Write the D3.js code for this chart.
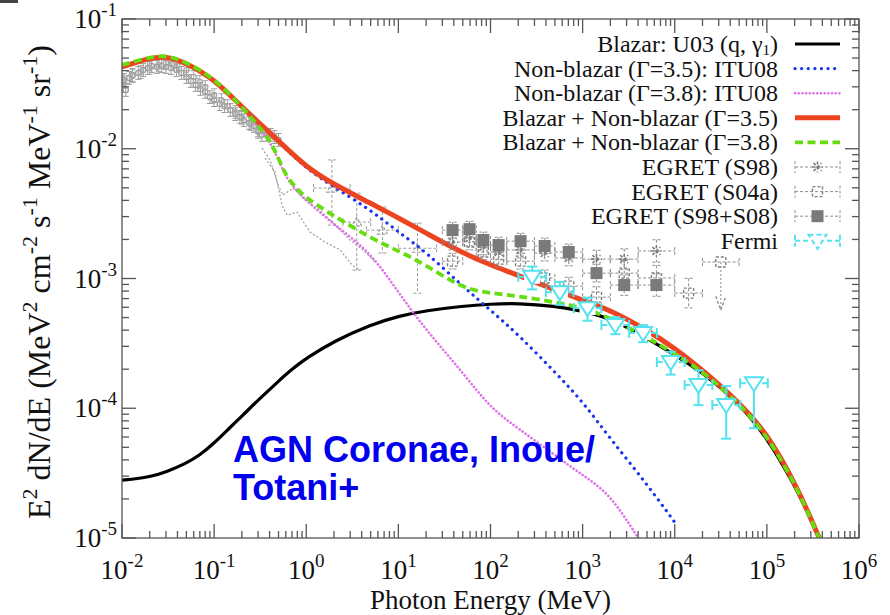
<!DOCTYPE html>
<html><head><meta charset="utf-8">
<script src="https://cdn.jsdelivr.net/npm/d3@7"></script>
<style>body{margin:0;background:#fff}svg{display:block}</style>
</head><body><svg id="c" width="890" height="615"></svg>
<script>
// ---------------- data ----------------
const xDecades=[-2,-1,0,1,2,3,4,5,6];
const yDecades=[-5,-4,-3,-2,-1];

const blazarE=[0.01,0.015,0.02,0.03,0.05,0.07,0.1,0.15,0.2,0.3,0.5,0.7,1,2,5,10,20,50,100,200,500,1e3,2e3,5e3,1e4,2e4,5e4,1e5,2e5,3e5,4e5];
const blazarV=[2.79e-5,2.87e-5,2.97e-5,3.22e-5,3.77e-5,4.35e-5,5.38e-5,7.15e-5,8.69e-5,1.155e-4,1.618e-4,2.0e-4,2.43e-4,3.29e-4,4.41e-4,5.13e-4,5.66e-4,6.13e-4,6.35e-4,6.46e-4,6.13e-4,5.61e-4,4.95e-4,3.47e-4,2.57e-4,1.90e-4,1.09e-4,5.99e-5,2.55e-5,1.40e-5,8.8e-6];

const nb35E=[0.01,0.02,0.03,0.05,0.1,0.2,0.3,0.5,1,2,5,10,20,50,100,200,500,1e3,2e3,5e3,1e4];
const nb35V=[0.0424,0.0497,0.0516,0.0455,0.0342,0.0208,0.0159,0.0113,0.0070,0.00507,0.00337,0.00228,0.00160,0.00087,0.00057,0.00037,0.00019,0.000113,5.8e-5,2.6e-5,1.32e-5];

const nb38E=[0.01,0.02,0.03,0.05,0.1,0.2,0.3,0.4,0.5,0.6,0.8,1,2,5,10,20,50,100,200,500,1e3,2e3,4e3,5e3];
const nb38V=[0.0438,0.0505,0.0524,0.0461,0.0346,0.0206,0.0148,0.0114,0.0083,0.0060,0.0047,0.0040,0.0026,0.0016,0.00078,0.00040,0.000189,1.0e-4,7.0e-5,4.35e-5,3.05e-5,2.18e-5,9.97e-6,8.0e-6];

const sum35E=[0.01,0.02,0.03,0.05,0.1,0.2,0.3,0.5,1,2,5,10,20,50,100,200,500,1e3,2e3,5e3,1e4,2e4,5e4,1e5,2e5,3e5,4e5];
const sum35V=[0.0427,0.0500,0.0519,0.0458,0.0345,0.0210,0.0161,0.0115,0.0072,0.0053,0.0038,0.00293,0.00224,0.00157,0.00127,0.00106,0.000814,0.000682,0.000571,0.000400,0.000291,0.000197,0.000111,6.43e-5,2.69e-5,1.42e-5,8.8e-6];

const sum38E=[0.01,0.02,0.03,0.05,0.1,0.2,0.3,0.4,0.5,0.6,0.8,1,2,5,10,20,50,100,200,500,1e3,2e3,5e3,1e4,2e4,5e4,1e5,2e5,3e5,4e5];
const sum38V=[0.0442,0.0509,0.0528,0.0465,0.0350,0.0210,0.0152,0.01167,0.00848,0.00616,0.00489,0.00417,0.00303,0.00205,0.00163,0.00127,0.000833,0.000772,0.000731,0.000658,0.000597,0.000495,0.000353,0.000263,0.000193,0.000109,6.20e-5,2.65e-5,1.40e-5,8.8e-6];

// low-energy gray data (two sets)
const lowE=[0.010,0.0105,0.011,0.012,0.013,0.015,0.017,0.019,0.021,0.024,0.027,0.030,0.034,0.039,0.044,0.050,0.056,0.063,0.071,0.080,0.090,0.10,0.115,0.13,0.15,0.17,0.19,0.21,0.24,0.27,0.30,0.33,0.37,0.41,0.45,0.5];
const lowV=[0.0304,0.0339,0.0284,0.0351,0.0370,0.0384,0.0404,0.0419,0.0434,0.0427,0.0434,0.0427,0.0419,0.0404,0.0384,0.0357,0.0333,0.0310,0.0289,0.0274,0.0250,0.0237,0.0221,0.0213,0.0199,0.0185,0.0176,0.0166,0.0158,0.0150,0.0135,0.0128,0.0128,0.0128,0.0123,0.0117];
const low2E=[0.0105,0.013,0.016,0.02,0.025,0.03,0.035,0.04,0.05,0.06,0.07,0.08,0.1,0.12,0.14,0.17,0.2,0.25,0.3];
const low2V=[0.0327,0.0363,0.0390,0.0419,0.0442,0.0458,0.0450,0.0434,0.0404,0.0357,0.0327,0.0299,0.0259,0.0237,0.0213,0.0192,0.0173,0.0155,0.0139];
const lowErr=0.12;

// gray dotted spectra (MeV range)
const grayLine1E=[0.331,0.405,0.494,0.560,0.719,0.971,1.41,2.06,2.99,4.14,5.59];
const grayLine1V=[0.0101,0.00818,0.00525,0.00440,0.00498,0.00402,0.00336,0.00258,0.00198,0.00166,0.00134];
const grayLine2E=[0.357,0.458,0.546,0.619,0.795,1.10,1.60,2.33,3.14,3.84];
const grayLine2V=[0.00848,0.00661,0.00368,0.00308,0.00325,0.00228,0.00191,0.00166,0.00127,0.00116];

// COMPTEL-like points
const compLo=[1.2,2.5,4.5,10], compHi=[3,5,10,26];
const compV=[4.98e-3,2.72e-3,2.36e-3,1.71e-3];
const compVlo=[2.58e-3,1.16e-3,1.57e-3,7.7e-4];
const compVhi=[8.2e-3,4.55e-3,3.56e-3,2.67e-3];

// EGRET bins (MeV)
const egretLo=[30,50,70,100,150,300,500,1000,2000,4000,10000,20000];
const egretHi=[50,70,100,150,300,500,1000,2000,4000,10000,20000,50000];
const s98V=[0.00191,0.00205,0.00175,0.00160,0.00166,0.00157,0.00144,0.00141,0.00141,0.00163];
const s98Err=[0.15,0.15,0.15,0.15,0.15,0.15,0.15,0.17,0.2,0.22];
const s04V=[0.00136,0.00191,0.00160,0.00141,0.00136,0.00101,0.000873,0.000719,0.00110,0.00101,0.000772,0.00134];
const s04Err=[0.15,0.15,0.15,0.15,0.15,0.15,0.17,0.2,0.25,0.25,0.3,0];
const s04UpperLimitEnd=0.00057;
const s08V=[0.00236,0.00240,0.00198,0.00181,0.00194,0.00178,0.00160,0.00110,0.00089,0.00089];
const s08Err=[0.15,0.15,0.15,0.15,0.15,0.15,0.15,0.17,0.2,0.22];

// Fermi
const fermiLo=[200,400,800,1600,3200,6400,12800,25600,51200];
const fermiHi=[400,800,1600,3200,6400,12800,25600,51200,102400];
const fermiV=[1.03e-3,7.85e-4,5.91e-4,4.38e-4,3.80e-4,2.27e-4,1.51e-4,1.06e-4,1.56e-4];
const fermiUp=[0.2,0.2,0.2,0.15,0.15,0.2,0.3,0.4,0.1];
const fermiDn=[0.2,0.2,0.2,0.15,0.15,0.2,0.3,0.45,0.55];

const legendLabels=[
  ["Blazar: U03 (q, γ","1",")"],
  ["Non-blazar (Γ=3.5): ITU08"],
  ["Non-blazar (Γ=3.8): ITU08"],
  ["Blazar + Non-blazar (Γ=3.5)"],
  ["Blazar + Non-blazar (Γ=3.8)"],
  ["EGRET (S98)"],["EGRET (S04a)"],["EGRET (S98+S08)"],["Fermi"]];

// ---------------- drawing ----------------
const W=890,H=615, L=122,R=859,T=19,B=538;
const SERIF="'Liberation Serif','Times New Roman',serif";
const C={black:"#000",blue:"#1a35ee",mag:"#e070ea",red:"#ec4420",green:"#66dd10",gray:"#8c8c8c",cyan:"#55e2ef"};
const svg=d3.select("#c");
svg.append("rect").attr("width",W).attr("height",H).attr("fill","#fff");
svg.append("rect").attr("x",0).attr("y",0).attr("width",18).attr("height",3).attr("fill","#444");

const x=d3.scaleLog().domain([0.01,1e6]).range([L,R]);
const y=d3.scaleLog().domain([1e-5,0.1]).range([B,T]);
svg.append("defs").append("clipPath").attr("id","clip").append("rect")
  .attr("x",L).attr("y",T).attr("width",R-L).attr("height",B-T);
const plot=svg.append("g").attr("clip-path","url(#clip)");
const line=d3.line().x(d=>x(d[0])).y(d=>y(d[1])).curve(d3.curveBasis);

// low-energy gray cloud
function lowSet(E,V,col){
  const g=plot.append("g").attr("stroke",col).attr("fill","none").attr("stroke-width",1);
  E.forEach((e,i)=>{const v=V[i],cx=x(e),cy=y(v),y1=y(v*(1+lowErr)),y2=y(v/(1+lowErr));
    g.append("line").attr("x1",cx).attr("x2",cx).attr("y1",y1).attr("y2",y2);
    g.append("line").attr("x1",cx-3).attr("x2",cx+3).attr("y1",y1).attr("y2",y1);
    g.append("line").attr("x1",cx-3).attr("x2",cx+3).attr("y1",y2).attr("y2",y2);
    g.append("circle").attr("cx",cx).attr("cy",cy).attr("r",2.6).attr("stroke-width",1.3);
  });
}
lowSet(lowE,lowV,"#9a9a9a");
lowSet(low2E,low2V,"#a8a8a8");

// gray dotted spectra
[[grayLine1E,grayLine1V],[grayLine2E,grayLine2V]].forEach(([E,V])=>{
  plot.append("path").datum(d3.zip(E,V)).attr("d",d3.line().x(d=>x(d[0])).y(d=>y(d[1])))
    .attr("fill","none").attr("stroke","#999").attr("stroke-width",1.2).attr("stroke-dasharray","2,2");
});

// generic error bar
function errBar(g,elo,ehi,v,vlo,vhi,cap){
  const cx=x(Math.sqrt(elo*ehi)),cy=y(v),xl=x(elo),xr=x(ehi),yt=y(vhi),yb=y(vlo);
  g.append("line").attr("x1",xl).attr("x2",xr).attr("y1",cy).attr("y2",cy);
  g.append("line").attr("x1",xl).attr("x2",xl).attr("y1",cy-cap).attr("y2",cy+cap);
  g.append("line").attr("x1",xr).attr("x2",xr).attr("y1",cy-cap).attr("y2",cy+cap);
  if(vhi!==vlo){
    g.append("line").attr("x1",cx).attr("x2",cx).attr("y1",yt).attr("y2",yb);
    g.append("line").attr("x1",cx-cap).attr("x2",cx+cap).attr("y1",yt).attr("y2",yt);
    g.append("line").attr("x1",cx-cap).attr("x2",cx+cap).attr("y1",yb).attr("y2",yb);
  }
  return [cx,cy];
}
function marker(g,type,cx,cy,col){
  if(type==="star"){
    const r=5.5;
    [[r,0],[0,r],[r*0.72,r*0.72],[r*0.72,-r*0.72]].forEach(([a,b])=>
      g.append("line").attr("x1",cx-a).attr("x2",cx+a).attr("y1",cy-b).attr("y2",cy+b)
        .attr("stroke",col).attr("stroke-width",1.6).attr("stroke-dasharray",null));
  } else if(type==="osq"){
    g.append("rect").attr("x",cx-5).attr("y",cy-5).attr("width",10).attr("height",10)
      .attr("fill","none").attr("stroke",col).attr("stroke-width",1.4).attr("stroke-dasharray",null);
  } else if(type==="fsq"){
    g.append("rect").attr("x",cx-6).attr("y",cy-6).attr("width",12).attr("height",12)
      .attr("fill","#7a7a7a").attr("stroke","none");
  } else if(type==="tri"){
    g.append("path").attr("d",`M${cx-9},${cy-6}L${cx+9},${cy-6}L${cx},${cy+8}Z`)
      .attr("fill","none").attr("stroke",col).attr("stroke-width",2).attr("stroke-dasharray",null);
  } else if(type==="utri"){
    g.append("path").attr("d",`M${cx-5},${cy+4}L${cx+5},${cy+4}L${cx},${cy-5}Z`)
      .attr("fill","none").attr("stroke",col).attr("stroke-width",1.2).attr("stroke-dasharray",null);
  }
}

// COMPTEL-like points
{
  const g=plot.append("g").attr("stroke","#9c9c9c").attr("stroke-width",1).attr("stroke-dasharray","3,2");
  compV.forEach((v,i)=>{const [cx,cy]=errBar(g,compLo[i],compHi[i],v,compVlo[i],compVhi[i],4);marker(g,"utri",cx,cy,"#999");});
}

// model curves
function curve(E,V,col,w,dash,cap){
  plot.append("path").datum(d3.zip(E,V)).attr("d",line).attr("fill","none")
    .attr("stroke",col).attr("stroke-width",w).attr("stroke-dasharray",dash)
    .attr("stroke-linecap",cap||"butt");
}
curve(blazarE,blazarV,C.black,3.2,null);
curve(nb35E,nb35V,C.blue,3.2,"0.1,6.5","round");
curve(nb38E,nb38V,C.mag,2.6,"0.1,3.6","round");
curve(sum35E,sum35V,C.red,5,null);
curve(sum38E,sum38V,C.green,3.8,"8,4.5");

// EGRET
function egret(V,Err,type){
  const g=plot.append("g").attr("stroke","#8e8e8e").attr("stroke-width",1).attr("stroke-dasharray","3,2");
  V.forEach((v,i)=>{
    const e=Err[i];
    const [cx,cy]=errBar(g,egretLo[i],egretHi[i],v,v/(1+e),v*(1+e),4);
    marker(g,type,cx,cy,"#7c7c7c");
  });
  return g;
}
egret(s98V,s98Err,"star");
const g04=egret(s04V,s04Err,"osq");
{ // upper limit arrow
  const i=s04V.length-1,cx=x(Math.sqrt(egretLo[i]*egretHi[i])),y0=y(s04V[i]),y1=y(s04UpperLimitEnd);
  g04.append("line").attr("x1",cx).attr("x2",cx).attr("y1",y0).attr("y2",y1).attr("stroke-dasharray","2,2");
  g04.append("path").attr("d",`M${cx-5},${y1-14}L${cx},${y1}L${cx+5},${y1-14}`).attr("fill","none").attr("stroke-dasharray",null).attr("stroke-width",1.4);
}
egret(s08V,s08Err,"fsq");

// Fermi
{
  const g=plot.append("g").attr("stroke",C.cyan).attr("stroke-width",2);
  fermiV.forEach((v,i)=>{
    const [cx,cy]=errBar(g,fermiLo[i],fermiHi[i],v,v*(1-fermiDn[i]),v*(1+fermiUp[i]),5);
    g.append("rect").attr("x",cx-8).attr("y",cy-6).attr("width",16).attr("height",13).attr("fill","#fff").attr("stroke","none");
    marker(g,"tri",cx,cy,C.cyan);
  });
}

// frame & ticks
const tg=svg.append("g").attr("stroke","#555").attr("stroke-width",1.3);
tg.append("rect").attr("x",L).attr("y",T).attr("width",R-L).attr("height",B-T).attr("fill","none");
const minors=[2,3,4,5,6,7,8,9];
xDecades.forEach(n=>{
  const xv=x(Math.pow(10,n));
  tg.append("line").attr("x1",xv).attr("x2",xv).attr("y1",B).attr("y2",B-14);
  tg.append("line").attr("x1",xv).attr("x2",xv).attr("y1",T).attr("y2",T+14);
  if(n<6) minors.forEach(k=>{const xm=x(k*Math.pow(10,n));
    tg.append("line").attr("x1",xm).attr("x2",xm).attr("y1",B).attr("y2",B-7);
    tg.append("line").attr("x1",xm).attr("x2",xm).attr("y1",T).attr("y2",T+7);});
});
yDecades.forEach(n=>{
  const yv=y(Math.pow(10,n));
  tg.append("line").attr("y1",yv).attr("y2",yv).attr("x1",L).attr("x2",L+14);
  tg.append("line").attr("y1",yv).attr("y2",yv).attr("x1",R).attr("x2",R-14);
  if(n<-1) minors.forEach(k=>{const ym=y(k*Math.pow(10,n));
    tg.append("line").attr("y1",ym).attr("y2",ym).attr("x1",L).attr("x2",L+7);
    tg.append("line").attr("y1",ym).attr("y2",ym).attr("x1",R).attr("x2",R-7);});
});

// tick labels
const lab=svg.append("g").attr("font-family",SERIF).attr("fill","#111");
xDecades.forEach(n=>{
  const t=lab.append("text").attr("x",x(Math.pow(10,n))).attr("y",579).attr("text-anchor","middle").attr("font-size",27);
  t.append("tspan").text("10");
  t.append("tspan").attr("dy",-12).attr("font-size",19).text(String(n));
});
yDecades.forEach(n=>{
  const t=lab.append("text").attr("x",117).attr("y",y(Math.pow(10,n))+9).attr("text-anchor","end").attr("font-size",27);
  t.append("tspan").text("10");
  t.append("tspan").attr("dy",-12).attr("font-size",19).text(String(n));
});
// axis titles
lab.append("text").attr("x",(L+R)/2).attr("y",609).attr("text-anchor","middle").attr("font-size",27).text("Photon Energy (MeV)");
{
  const t=lab.append("text").attr("transform",`translate(50,282) rotate(-90)`).attr("text-anchor","middle").attr("font-size",32);
  const parts=[["E",0],["2",1],[" dN/dE (MeV",0],["2",1],[" cm",0],["-2",1],[" s",0],["-1",1],[" MeV",0],["-1",1],[" sr",0],["-1",1],[")",0]];
  let up=false;
  parts.forEach(([s,sup])=>{
    const ts=t.append("tspan").text(s);
    if(sup){ts.attr("font-size",22).attr("dy",up?0:-13);up=true;}
    else {ts.attr("dy",up?13:0);up=false;}
  });
}

// legend
{
  const g=svg.append("g");
  const y0=44, dy=24.6, tx=778, s0=795, s1=840;
  legendLabels.forEach((lb,i)=>{
    const yy=y0+i*dy;
    const t=g.append("text").attr("x",tx).attr("y",yy+8).attr("text-anchor","end")
      .attr("font-family",SERIF).attr("font-size",24).attr("fill","#111");
    t.append("tspan").text(lb[0]);
    if(lb.length>1){t.append("tspan").attr("dy",3).attr("font-size",15).text(lb[1]);
      t.append("tspan").attr("dy",-3).text(lb[2]);}
  });
  const ly=i=>y0+i*dy;
  const seg=(i,col,w,dash,cap)=>g.append("line").attr("x1",s0).attr("x2",s1).attr("y1",ly(i)).attr("y2",ly(i))
     .attr("stroke",col).attr("stroke-width",w).attr("stroke-dasharray",dash).attr("stroke-linecap",cap||"butt");
  seg(0,C.black,3.2,null);
  seg(1,C.blue,3.2,"0.1,6.5","round");
  seg(2,C.mag,2.6,"0.1,3.6","round");
  seg(3,C.red,5,null);
  seg(4,C.green,3.8,"8,4.5");
  const eg=(i,type,col,dash,w)=>{
    const gg=g.append("g").attr("stroke",col).attr("stroke-width",w).attr("stroke-dasharray",dash);
    const yy=ly(i);
    gg.append("line").attr("x1",s0).attr("x2",s1).attr("y1",yy).attr("y2",yy);
    gg.append("line").attr("x1",s0).attr("x2",s0).attr("y1",yy-6).attr("y2",yy+6).attr("stroke-dasharray",null);
    gg.append("line").attr("x1",s1).attr("x2",s1).attr("y1",yy-6).attr("y2",yy+6).attr("stroke-dasharray",null);
    const cx=(s0+s1)/2;
    if(type==="tri") gg.append("rect").attr("x",cx-9).attr("y",yy-7).attr("width",18).attr("height",15).attr("fill","#fff").attr("stroke","none");
    marker(gg,type,cx,yy,type==="tri"?col:"#7c7c7c");
  };
  eg(5,"star","#8e8e8e","3,2",1);
  eg(6,"osq","#8e8e8e","3,2",1);
  eg(7,"fsq","#8e8e8e","3,2",1);
  eg(8,"tri",C.cyan,"5,3",2);
}

// annotation
const ann=svg.append("g").attr("font-family","'Liberation Sans',Arial,sans-serif").attr("font-weight","bold")
  .attr("font-size",36).attr("fill","#0000ee");
ann.append("text").attr("x",233).attr("y",462).text("AGN Coronae, Inoue/");
ann.append("text").attr("x",233).attr("y",500).text("Totani+");
</script></body></html>
